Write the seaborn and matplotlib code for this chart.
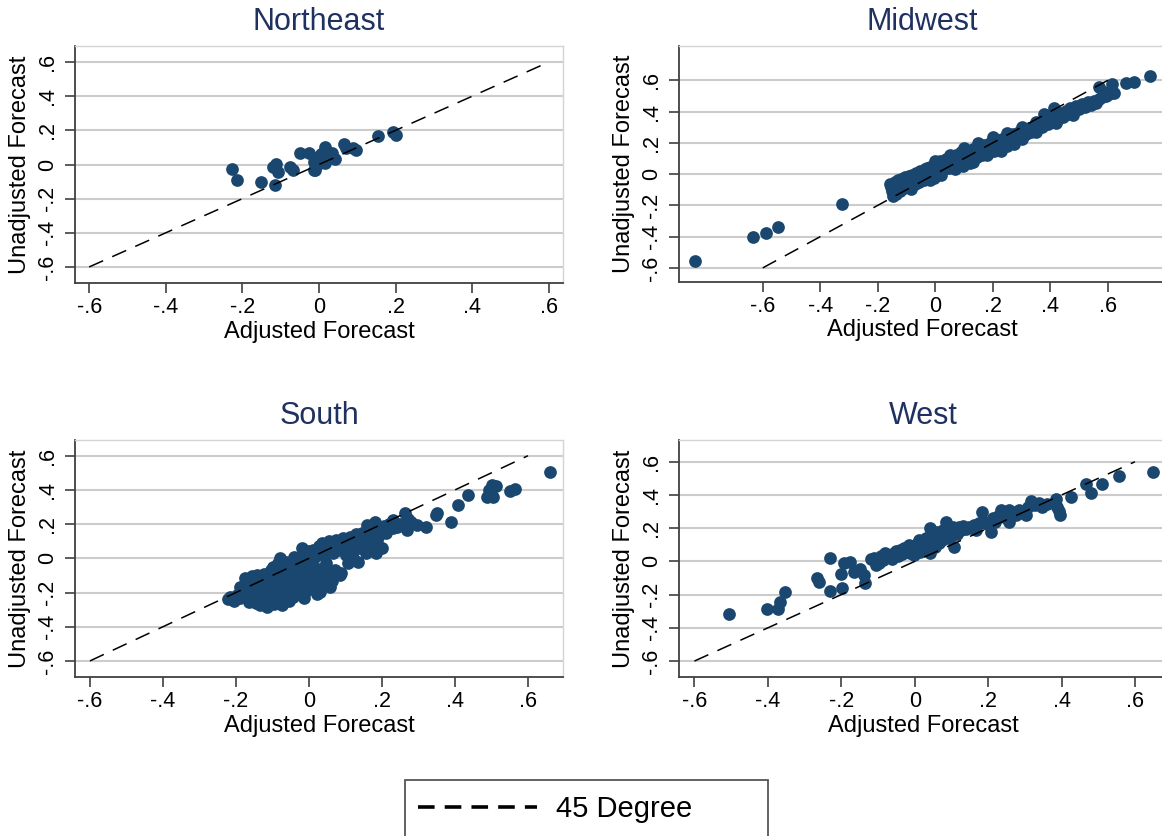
import matplotlib
matplotlib.use("Agg")
import matplotlib.pyplot as plt
import seaborn as sns
from matplotlib.lines import Line2D
from matplotlib.patches import Rectangle

# ---- data: adjusted vs unadjusted forecasts by census region ----
ne_x = [-0.227, -0.213, -0.151, -0.114, -0.119, -0.112, -0.106, -0.075, -0.069, -0.049,
        -0.027, -0.014, -0.014, 0.016, 0.012, 0.029, 0.064, 0.090, -0.001, 0.020,
        -0.005, 0.153, 0.194, 0.200, 0.071, 0.097, 0.042, -0.011, 0.016, 0.035,
        0.005]
ne_y = [-0.024, -0.092, -0.100, -0.119, -0.016, 0.003, -0.041, -0.016, -0.032, 0.069,
        0.065, -0.032, 0.017, 0.104, 0.026, 0.055, 0.119, 0.094, 0.046, 0.075,
        0.000, 0.164, 0.193, 0.173, 0.095, 0.086, 0.031, -0.031, 0.008, 0.070,
        0.060]

mw_x = [-0.837, -0.635, -0.590, -0.548, -0.325, -0.158, -0.155, -0.150, -0.147, -0.143,
        -0.140, -0.138, -0.135, -0.131, -0.128, -0.125, -0.122, -0.120, -0.117, -0.113,
        -0.110, -0.106, -0.103, -0.100, -0.097, -0.093, -0.090, -0.087, -0.083, -0.080,
        -0.077, -0.073, -0.070, -0.066, -0.063, -0.060, -0.056, -0.052, -0.049, -0.045,
        -0.041, -0.037, -0.034, -0.030, -0.027, -0.022, -0.018, -0.014, -0.010, -0.006,
        -0.002, -0.020, -0.005, 0.003, 0.008, 0.012, 0.018, 0.024, 0.030, 0.036,
        0.042, 0.048, 0.054, 0.060, 0.066, 0.072, 0.078, 0.085, 0.091, 0.098,
        0.104, 0.110, 0.117, 0.124, 0.130, 0.137, 0.144, 0.150, 0.157, 0.164,
        0.170, 0.177, 0.184, 0.190, 0.197, 0.204, 0.211, 0.218, 0.225, 0.232,
        0.240, 0.248, 0.255, 0.262, 0.275, 0.270, 0.280, 0.290, 0.298, 0.306,
        0.315, 0.324, 0.333, 0.342, 0.350, 0.360, 0.370, 0.379, 0.383, 0.392,
        0.400, 0.408, 0.414, 0.420, 0.428, 0.436, 0.445, 0.453, 0.462, 0.470,
        0.480, 0.490, 0.500, 0.510, 0.520, 0.530, 0.540, 0.550, 0.560, 0.570,
        0.570, 0.580, 0.587, 0.595, 0.605, 0.616, 0.622, 0.662, 0.691, 0.747,
        0.120, 0.095, 0.000, 0.050, 0.100, 0.150, 0.200, 0.250, 0.300, 0.350,
        0.020, 0.070, 0.130, 0.180, 0.230, 0.300, 0.350, 0.420, 0.480]
mw_y = [-0.553, -0.400, -0.377, -0.336, -0.191, -0.061, -0.085, -0.110, -0.142, -0.072,
        -0.050, -0.098, -0.125, -0.038, -0.080, -0.060, -0.105, -0.030, -0.070, -0.048,
        -0.088, -0.020, -0.062, -0.040, -0.078, -0.010, -0.052, -0.030, -0.095, -0.005,
        -0.045, -0.022, -0.062, 0.010, -0.030, -0.008, -0.050, 0.020, -0.015, 0.005,
        -0.035, 0.030, 0.000, 0.040, 0.012, -0.020, 0.048, 0.022, 0.002, 0.060,
        0.035, -0.040, -0.025, 0.070, 0.045, 0.018, 0.085, 0.055, 0.030, 0.098,
        0.070, 0.040, 0.110, 0.080, 0.052, 0.125, 0.095, 0.065, 0.140, 0.110,
        0.078, 0.150, 0.122, 0.092, 0.160, 0.135, 0.108, 0.172, 0.145, 0.120,
        0.185, 0.160, 0.135, 0.198, 0.172, 0.150, 0.210, 0.185, 0.165, 0.225,
        0.198, 0.178, 0.240, 0.212, 0.191, 0.255, 0.228, 0.268, 0.242, 0.280,
        0.258, 0.296, 0.272, 0.310, 0.288, 0.322, 0.300, 0.387, 0.340, 0.318,
        0.358, 0.336, 0.420, 0.372, 0.352, 0.390, 0.368, 0.405, 0.384, 0.420,
        0.400, 0.435, 0.415, 0.448, 0.430, 0.460, 0.442, 0.470, 0.455, 0.480,
        0.557, 0.490, 0.525, 0.500, 0.510, 0.579, 0.521, 0.583, 0.589, 0.626,
        0.070, 0.050, 0.085, 0.125, 0.165, 0.200, 0.235, 0.265, 0.300, 0.335,
        -0.005, 0.030, 0.080, 0.120, 0.150, 0.225, 0.270, 0.325, 0.375]

s_x = [-0.222, -0.215, -0.205, -0.198, -0.190, -0.188, -0.180, -0.175, -0.172, -0.168,
       -0.165, -0.160, -0.157, -0.153, -0.150, -0.146, -0.142, -0.140, -0.136, -0.133,
       -0.130, -0.127, -0.122, -0.120, -0.116, -0.114, -0.110, -0.108, -0.104, -0.101,
       -0.098, -0.096, -0.093, -0.090, -0.087, -0.084, -0.081, -0.079, -0.077, -0.075,
       -0.072, -0.069, -0.066, -0.063, -0.061, -0.058, -0.055, -0.052, -0.049, -0.046,
       -0.043, -0.040, -0.038, -0.035, -0.032, -0.029, -0.026, -0.023, -0.020, -0.018,
       -0.016, -0.013, -0.010, -0.008, -0.006, -0.003, 0.000, 0.003, 0.006, 0.009,
       0.012, 0.015, 0.018, 0.022, 0.025, 0.028, 0.030, 0.033, 0.035, 0.038,
       0.042, 0.046, 0.048, 0.052, 0.055, 0.058, 0.062, 0.065, 0.068, 0.072,
       0.075, 0.080, 0.085, 0.089, 0.094, 0.098, 0.102, 0.108, 0.112, 0.115,
       0.120, 0.124, 0.128, 0.132, 0.135, 0.140, 0.145, 0.150, 0.155, 0.158,
       0.162, 0.167, 0.170, 0.175, 0.181, 0.185, 0.188, 0.190, 0.195, 0.199,
       0.205, 0.212, 0.220, 0.231, 0.231, 0.240, 0.250, 0.263, 0.268, 0.270,
       0.280, 0.295, 0.322, 0.350, 0.347, 0.390, 0.409, 0.437, 0.489, 0.505,
       0.494, 0.513, 0.502, 0.550, 0.565, 0.660]
s_y = [-0.240, -0.225, -0.248, -0.215, -0.170, -0.230, -0.195, -0.115, -0.145, -0.225,
       -0.255, -0.180, -0.105, -0.140, -0.210, -0.260, -0.100, -0.165, -0.235, -0.275,
       -0.125, -0.195, -0.090, -0.150, -0.283, -0.245, -0.215, -0.120, -0.070, -0.175,
       -0.050, -0.265, -0.140, -0.205, -0.095, -0.030, -0.240, 0.000, -0.160, -0.273,
       -0.115, -0.060, -0.200, -0.020, -0.166, -0.085, -0.250, -0.130, -0.040, -0.185,
       -0.225, 0.010, -0.100, -0.147, -0.060, -0.210, -0.020, -0.170, 0.058, -0.120,
       -0.069, -0.230, 0.020, -0.190, -0.030, -0.140, 0.040, -0.090, -0.045, -0.160,
       0.048, 0.000, -0.115, -0.210, -0.060, 0.070, -0.195, -0.140, 0.087, 0.020,
       -0.100, -0.030, -0.088, 0.060, 0.100, -0.166, -0.130, 0.030, 0.080, -0.070,
       0.110, 0.050, -0.100, -0.088, 0.117, 0.070, 0.020, -0.030, 0.126, 0.090,
       0.000, 0.050, 0.140, 0.100, -0.020, 0.060, 0.150, 0.110, 0.030, 0.195,
       0.075, 0.107, 0.160, 0.050, 0.214, 0.029, 0.126, 0.080, 0.165, 0.058,
       0.190, 0.150, 0.200, 0.224, 0.175, 0.185, 0.200, 0.263, 0.165, 0.230,
       0.210, 0.195, 0.181, 0.267, 0.253, 0.210, 0.311, 0.370, 0.356, 0.356,
       0.399, 0.425, 0.430, 0.395, 0.405, 0.503]

w_x = [-0.507, -0.403, -0.371, -0.368, -0.353, -0.266, -0.262, -0.231, -0.230, -0.198,
       -0.202, -0.193, -0.175, -0.166, -0.148, -0.134, -0.139, -0.120, -0.111, -0.105,
       -0.098, -0.092, -0.085, -0.080, -0.074, -0.068, -0.062, -0.057, -0.051, -0.046,
       -0.039, -0.034, -0.028, -0.020, -0.016, -0.012, -0.006, -0.002, 0.003, 0.007,
       0.011, 0.014, 0.018, 0.022, 0.026, 0.030, 0.034, 0.038, 0.041, 0.043,
       0.046, 0.050, 0.054, 0.058, 0.062, 0.066, 0.070, 0.074, 0.078, 0.082,
       0.084, 0.088, 0.092, 0.096, 0.100, 0.104, 0.107, 0.110, 0.115, 0.120,
       0.125, 0.132, 0.140, 0.148, 0.155, 0.162, 0.168, 0.175, 0.184, 0.190,
       0.198, 0.207, 0.212, 0.220, 0.228, 0.234, 0.242, 0.250, 0.257, 0.257,
       0.265, 0.275, 0.285, 0.295, 0.303, 0.310, 0.318, 0.328, 0.338, 0.348,
       0.360, 0.385, 0.389, 0.392, 0.395, 0.425, 0.466, 0.480, 0.510, 0.557,
       0.648]
w_y = [-0.316, -0.288, -0.284, -0.243, -0.187, -0.097, -0.123, 0.022, -0.177, -0.159,
       -0.073, -0.012, -0.002, -0.063, -0.043, -0.129, -0.083, 0.012, 0.022, -0.020,
       -0.008, 0.030, 0.010, 0.048, 0.025, 0.040, 0.015, 0.048, 0.060, 0.030,
       0.068, 0.045, 0.080, 0.068, 0.098, 0.050, 0.085, 0.038, 0.070, 0.105,
       0.128, 0.055, 0.090, 0.115, 0.075, 0.140, 0.128, 0.100, 0.204, 0.048,
       0.160, 0.120, 0.085, 0.145, 0.175, 0.110, 0.150, 0.130, 0.190, 0.160,
       0.239, 0.140, 0.200, 0.175, 0.150, 0.210, 0.088, 0.185, 0.165, 0.205,
       0.188, 0.215, 0.195, 0.210, 0.200, 0.218, 0.190, 0.230, 0.299, 0.240,
       0.225, 0.178, 0.260, 0.240, 0.275, 0.309, 0.265, 0.290, 0.239, 0.309,
       0.300, 0.280, 0.310, 0.290, 0.279, 0.330, 0.363, 0.340, 0.350, 0.329,
       0.345, 0.373, 0.329, 0.305, 0.279, 0.389, 0.469, 0.413, 0.469, 0.516,
       0.536]

regions = ["Northeast", "Midwest", "South", "West"]
diag = [-0.6, 0.6]
tick_vals = [-0.6, -0.4, -0.2, 0.0, 0.2, 0.4, 0.6]
tick_text = ["-.6", "-.4", "-.2", "0", ".2", ".4", ".6"]
legend_label = "45 Degree"

# ---- style ----
sns.set_style("white")
plt.rcParams["font.family"] = ["Liberation Sans", "DejaVu Sans"]
plt.rcParams["text.color"] = "black"
plt.rcParams["axes.labelcolor"] = "black"
plt.rcParams["xtick.color"] = "black"
plt.rcParams["ytick.color"] = "black"

W, H = 1162, 836
NAVY = "#1a476f"
TITLE_C = "#1e3160"
GRID_C = "#cccccc"
AXIS_C = "#404040"

fig = plt.figure(figsize=(W / 100, H / 100), dpi=100)


def px_rect(left, top, right, bottom):
    return [left / W, (H - bottom) / H, (right - left) / W, (bottom - top) / H]


panel_specs = [
    (regions[0], ne_x, ne_y, px_rect(75, 46, 563, 283), (-0.637, 0.637), (-0.694, 0.694)),
    (regions[1], mw_x, mw_y, px_rect(679, 46, 1166, 282), (-0.891, 0.802), (-0.690, 0.819)),
    (regions[2], s_x, s_y, px_rect(75, 440, 563, 677), (-0.641, 0.696), (-0.694, 0.692)),
    (regions[3], w_x, w_y, px_rect(679, 440, 1168, 677), (-0.642, 0.690), (-0.696, 0.731)),
]

for name, xs, ys, rect, xlim, ylim in panel_specs:
    ax = fig.add_axes(rect)
    ax.set_xlim(*xlim)
    ax.set_ylim(*ylim)
    ax.set_facecolor("white")

    ax.yaxis.grid(True, color=GRID_C, lw=1.5, zorder=0)
    ax.xaxis.grid(False)
    ax.set_axisbelow(True)

    sns.scatterplot(x=xs, y=ys, ax=ax, color=NAVY, s=84, linewidth=0,
                    legend=False, zorder=2)
    ax.plot(diag, diag, color="black", lw=1.1, ls=(0, (10, 6.5)), zorder=3)

    ax.set_xticks(tick_vals)
    ax.set_xticklabels(tick_text, fontsize=15.5)
    ax.set_yticks(tick_vals)
    ax.set_yticklabels(tick_text, fontsize=15.5, rotation=90, va="center")
    ax.tick_params(axis="x", direction="out", length=7, width=1.2,
                   color=AXIS_C, pad=3, bottom=True)
    ax.tick_params(axis="y", direction="out", length=7, width=1.2,
                   color=AXIS_C, pad=5, left=True)

    ax.set_xlabel("Adjusted Forecast", fontsize=17)
    ax.xaxis.set_label_coords(0.5, -0.205)
    ax.xaxis.label.set_va("center")
    ax.set_ylabel("Unadjusted Forecast", fontsize=17)
    ax.yaxis.set_label_coords(-0.113, 0.5)
    ax.yaxis.label.set_va("center")

    for side in ("left", "bottom"):
        ax.spines[side].set_color(AXIS_C)
        ax.spines[side].set_linewidth(1.3)
    for side in ("top", "right"):
        ax.spines[side].set_color("#d4d4d4")
        ax.spines[side].set_linewidth(1.0)

    ax.text(0.5, 1 + 24 / 237, name, transform=ax.transAxes, ha="center",
            va="center", fontsize=22, color=TITLE_C)

# ---- legend ----
handle = Line2D([0], [0], color="black", lw=2.6, ls=(0, (4.6, 2.8)))
fig.legend(handles=[handle], labels=[legend_label], loc="center left",
           bbox_to_anchor=(418 / W, 27 / H), frameon=False, fontsize=21,
           handlelength=4.08, handletextpad=0.65, borderpad=0, borderaxespad=0)
fig.patches.append(Rectangle((405 / W, -0.03), 363 / W, 0.03 + 56 / H,
                             transform=fig.transFigure, fill=False,
                             edgecolor="#555555", lw=1.3))

fig.savefig("out.png", dpi=100)
